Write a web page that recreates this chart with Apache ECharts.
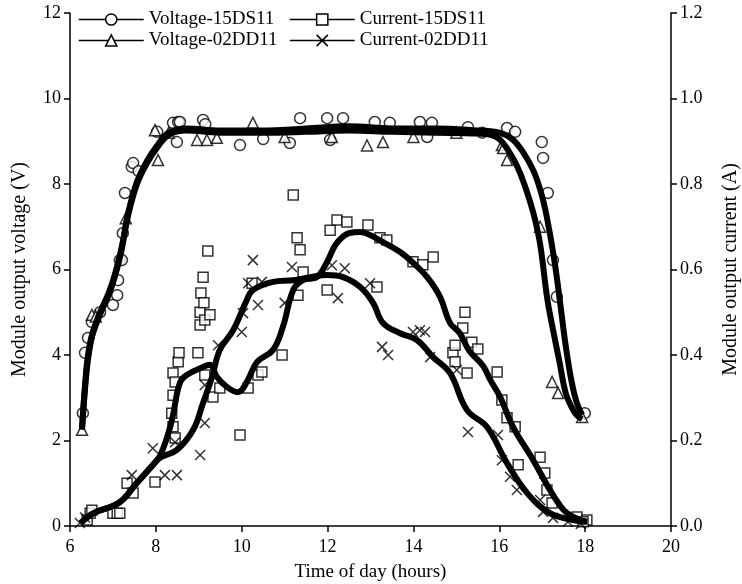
<!DOCTYPE html>
<html>
<head>
<meta charset="utf-8">
<script src="https://cdn.jsdelivr.net/npm/echarts@6/dist/echarts.min.js"></script>
<style>
  html, body { margin: 0; padding: 0; background: #fff; }
  #chart { width: 742px; height: 584px; }
</style>
</head>
<body>
<div id="chart"></div>
<script>
// fitted curves [hour, value]
const voltage15Curve = [[6.28,2.3],[6.35,3.3],[6.42,4.0],[6.52,4.5],[6.7,5.0],[6.9,5.45],[7.05,5.9],[7.2,6.5],[7.35,7.3],[7.56,8.05],[7.8,8.55],[8.03,8.9],[8.3,9.2],[8.7,9.3],[9.5,9.25],[10.5,9.25],[11.5,9.3],[12.5,9.35],[13.5,9.3],[14.5,9.3],[15.5,9.25],[16.0,9.2],[16.3,9.05],[16.55,8.75],[16.8,8.3],[17.0,7.7],[17.15,7.0],[17.3,6.1],[17.42,5.2],[17.55,4.2],[17.68,3.4],[17.8,2.9],[17.93,2.6]];
const voltage02Curve = [[6.28,2.25],[6.35,3.2],[6.42,3.9],[6.52,4.45],[6.7,4.95],[6.9,5.4],[7.05,5.85],[7.2,6.45],[7.35,7.25],[7.56,8.0],[7.8,8.5],[8.03,8.85],[8.3,9.15],[8.7,9.25],[9.5,9.2],[10.5,9.2],[11.5,9.22],[12.5,9.25],[13.5,9.22],[14.5,9.2],[15.5,9.18],[15.8,9.15],[16.0,9.05],[16.2,8.8],[16.4,8.45],[16.6,7.95],[16.8,7.3],[16.95,6.6],[17.12,5.3],[17.25,4.6],[17.4,3.85],[17.55,3.1],[17.7,2.75],[17.8,2.6],[17.93,2.5]];
const current15Curve = [[6.25,0.007],[6.55,0.03],[7.15,0.055],[7.55,0.10],[7.95,0.145],[8.1,0.165],[8.3,0.22],[8.4,0.26],[8.56,0.335],[8.72,0.353],[9.1,0.372],[9.26,0.377],[9.42,0.349],[9.66,0.325],[9.91,0.313],[10.12,0.337],[10.36,0.384],[10.73,0.412],[10.96,0.466],[11.2,0.552],[11.43,0.575],[11.75,0.582],[12.0,0.62],[12.2,0.66],[12.5,0.685],[12.76,0.688],[13.0,0.68],[13.29,0.664],[13.69,0.641],[14.0,0.615],[14.32,0.582],[14.62,0.536],[14.85,0.475],[15.08,0.451],[15.3,0.41],[15.62,0.375],[15.8,0.34],[16.02,0.302],[16.32,0.232],[16.79,0.154],[17.18,0.084],[17.4,0.05],[17.58,0.03],[17.88,0.014],[18.05,0.01]];
const current02Curve = [[6.25,0.007],[6.55,0.03],[7.15,0.055],[7.55,0.10],[7.95,0.145],[8.1,0.16],[8.49,0.178],[8.87,0.225],[9.1,0.288],[9.31,0.349],[9.49,0.412],[9.8,0.458],[10.12,0.529],[10.26,0.552],[10.73,0.571],[11.2,0.575],[11.6,0.582],[11.99,0.587],[12.36,0.582],[12.76,0.559],[13.06,0.522],[13.29,0.475],[13.69,0.451],[14.08,0.435],[14.46,0.395],[14.85,0.358],[15.25,0.271],[15.71,0.232],[16.18,0.147],[16.65,0.077],[17.18,0.03],[17.72,0.014],[18.0,0.01]];

// measured points [hour, value]
const voltage15Points = [[6.30,2.64],[6.35,4.05],[6.42,4.4],[6.51,4.77],[6.7,5.0],[7.0,5.17],[7.1,5.4],[7.12,5.75],[7.16,6.22],[7.21,6.22],[7.23,6.85],[7.28,7.79],[7.44,8.4],[7.47,8.49],[7.6,8.3],[8.03,9.22],[8.4,9.43],[8.49,8.98],[8.52,9.45],[8.56,9.45],[9.1,9.5],[9.15,9.4],[9.96,8.91],[10.5,9.05],[11.12,8.96],[11.36,9.54],[11.99,9.54],[12.06,9.03],[12.36,9.54],[13.1,9.45],[13.45,9.43],[14.15,9.45],[14.32,9.1],[14.43,9.43],[15.27,9.33],[15.6,9.2],[16.18,9.31],[16.37,9.22],[16.99,8.98],[17.02,8.61],[17.13,7.79],[17.25,6.22],[17.34,5.36],[17.99,2.64]];
const voltage02Points = [[6.28,2.25],[6.51,4.94],[6.6,4.9],[7.3,7.2],[7.98,9.26],[8.05,8.56],[8.3,9.2],[8.96,9.03],[9.19,9.03],[9.42,9.08],[10.26,9.43],[11.0,9.1],[12.1,9.1],[12.92,8.9],[13.29,8.98],[14.0,9.1],[15.0,9.2],[16.06,8.91],[16.09,8.84],[16.18,8.56],[16.95,7.0],[17.23,3.37],[17.37,3.11],[17.93,2.55]];
const current15Points = [[6.40,0.014],[6.47,0.03],[6.51,0.037],[7.0,0.03],[7.1,0.03],[7.16,0.03],[7.33,0.10],[7.47,0.077],[7.98,0.103],[8.37,0.264],[8.40,0.232],[8.40,0.306],[8.40,0.358],[8.45,0.206],[8.45,0.337],[8.52,0.384],[8.54,0.405],[8.98,0.405],[9.03,0.47],[9.03,0.50],[9.05,0.545],[9.10,0.582],[9.12,0.522],[9.14,0.482],[9.14,0.353],[9.21,0.643],[9.26,0.494],[9.33,0.302],[9.49,0.323],[9.96,0.213],[10.15,0.323],[10.24,0.568],[10.38,0.353],[10.47,0.36],[10.94,0.40],[11.2,0.774],[11.29,0.674],[11.36,0.646],[11.43,0.594],[11.31,0.54],[11.99,0.552],[12.06,0.692],[12.22,0.716],[12.45,0.711],[12.94,0.704],[13.15,0.559],[13.22,0.674],[13.38,0.669],[13.99,0.618],[14.22,0.611],[14.46,0.629],[14.92,0.405],[14.97,0.423],[14.97,0.384],[15.15,0.463],[15.2,0.50],[15.25,0.358],[15.36,0.43],[15.5,0.414],[15.95,0.36],[16.06,0.295],[16.18,0.253],[16.37,0.232],[16.44,0.143],[16.95,0.161],[17.06,0.124],[17.11,0.084],[17.23,0.054],[17.81,0.021],[18.04,0.014],[17.95,0.01]];
const current02Points = [[6.23,0.007],[6.35,0.02],[7.44,0.119],[7.93,0.182],[8.21,0.119],[8.45,0.196],[8.49,0.119],[9.03,0.166],[9.14,0.241],[9.14,0.33],[9.45,0.423],[10.0,0.454],[10.03,0.498],[10.15,0.568],[10.26,0.622],[10.38,0.517],[10.47,0.571],[11.0,0.522],[11.17,0.606],[12.1,0.61],[12.24,0.533],[12.4,0.603],[12.99,0.568],[13.27,0.419],[13.41,0.40],[13.99,0.454],[14.15,0.458],[14.27,0.454],[14.39,0.395],[15.01,0.365],[15.27,0.22],[15.97,0.213],[16.06,0.154],[16.25,0.115],[16.41,0.084],[16.95,0.061],[17.02,0.033],[17.25,0.019],[17.6,0.01],[17.9,0.005]];

const xTicks = [6, 8, 10, 12, 14, 16, 18, 20];
const names = ['Voltage-15DS11', 'Voltage-02DD11', 'Current-15DS11', 'Current-02DD11'];

const FONT = 'Liberation Serif';
const CROSS = 'path://M0,0L10,10M10,0L0,10';
const hollow = { color: '#fff', borderColor: '#000', borderWidth: 1.5 };

function curve(name, data, symbol, axis) {
  return {
    name, type: 'line', data, yAxisIndex: axis,
    smooth: 0.4, showSymbol: false, symbol,
    itemStyle: hollow,
    lineStyle: { color: '#000', width: 6 },
    z: 3,
  };
}

function points(name, data, symbol, size, axis) {
  return {
    name, type: 'scatter', data, yAxisIndex: axis,
    symbol, symbolSize: size,
    itemStyle: symbol === CROSS
      ? { color: 'rgba(0,0,0,0)', borderColor: '#000', borderWidth: 1.5 }
      : hollow,
    z: 2,
  };
}

const axisCommon = {
  axisLine: { show: true, lineStyle: { color: '#000', width: 1.5 } },
  axisTick: { show: true, length: 6, lineStyle: { color: '#000', width: 1.5 } },
  splitLine: { show: false },
};

const legendCommon = {
  orient: 'vertical', top: 10, padding: 0,
  itemWidth: 65, itemHeight: 14, itemGap: 2,
  textStyle: { fontFamily: FONT, fontSize: 19, color: '#000' },
  lineStyle: { color: '#000', width: 1.5 },
  itemStyle: { color: '#fff', borderColor: '#000', borderWidth: 1.5 },
};

const tickLabel = { color: '#000', fontFamily: FONT, fontSize: 18 };

const chart = echarts.init(document.getElementById('chart'));
chart.setOption({
  animation: false,
  backgroundColor: '#fff',
  textStyle: { fontFamily: FONT },
  grid: { left: 70, right: 71, top: 13, bottom: 58, containLabel: false, outerBoundsMode: 'none' },
  legend: [
    Object.assign({ left: 78, data: [names[0], names[1]] }, legendCommon),
    Object.assign({ left: 289, data: [names[2], names[3]] }, legendCommon),
  ],
  xAxis: Object.assign({
    type: 'value', min: xTicks[0], max: xTicks[xTicks.length - 1], interval: 2,
    name: 'Time of day (hours)', nameLocation: 'middle', nameGap: 37,
    nameTextStyle: { fontFamily: FONT, fontSize: 19, color: '#000' },
    axisLabel: Object.assign({ margin: 12 }, tickLabel),
  }, axisCommon),
  yAxis: [
    Object.assign({
      type: 'value', min: 0, max: 12, interval: 2,
      name: 'Module output voltage (V)', nameLocation: 'middle', nameGap: 40,
      nameTextStyle: { fontFamily: FONT, fontSize: 20, color: '#000' },
      axisLabel: Object.assign({ margin: 9 }, tickLabel),
    }, axisCommon),
    Object.assign({
      type: 'value', min: 0, max: 1.2, interval: 0.2, position: 'right',
      name: 'Module output current (A)', nameLocation: 'middle', nameGap: 50, nameRotate: 90,
      nameTextStyle: { fontFamily: FONT, fontSize: 20, color: '#000' },
      axisLabel: Object.assign({ margin: 9, formatter: v => v.toFixed(1) }, tickLabel),
    }, axisCommon),
  ],
  series: [
    points('v15pts', voltage15Points, 'circle', 11, 0),
    points('v02pts', voltage02Points, 'triangle', 11, 0),
    points('c15pts', current15Points, 'rect', 10, 1),
    points('c02pts', current02Points, CROSS, 10, 1),
    curve(names[0], voltage15Curve, 'circle', 0),
    curve(names[1], voltage02Curve, 'triangle', 0),
    curve(names[2], current15Curve, 'rect', 1),
    curve(names[3], current02Curve, CROSS, 1),
  ],
});
</script>
</body>
</html>
